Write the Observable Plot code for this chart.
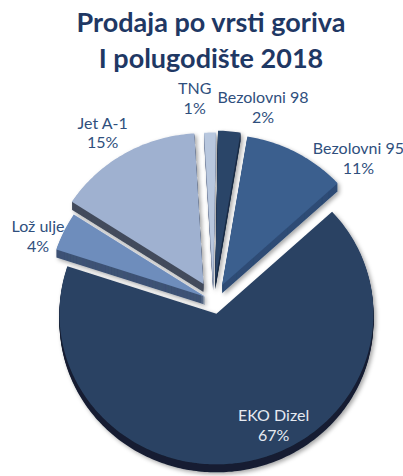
<!DOCTYPE html>
<html><head><meta charset="utf-8">
<script src="https://cdn.jsdelivr.net/npm/d3@7"></script>
<script src="https://cdn.jsdelivr.net/npm/@observablehq/plot@0.6"></script>
<style>
body{margin:0;background:#fff;width:403px;height:476px;overflow:hidden;font-family:Lato,sans-serif}
#title{height:74px;box-sizing:border-box;padding-top:4px;margin-left:19px;width:384px;text-align:center;font:700 27px/36px Lato,sans-serif;color:#1f3864}
#chart svg{display:block}
</style></head><body>
<div id="title">Prodaja po vrsti goriva<br>I polugodište 2018</div>
<div id="chart"></div>
<script>
// ---- data ----
const categories = ["Bezolovni 98", "Bezolovni 95", "EKO Dizel", "Lož ulje", "Jet A-1", "TNG"];
const shares = [2.3, 10.6, 66.9, 4.1, 14.9, 1.2];
const pctLabels = ["2%", "11%", "67%", "4%", "15%", "1%"];

// ---- style / layout ----
const topColors  = ["#2b4467", "#3a5e8e", "#2b4364", "#6e8dbc", "#9fb1d0", "#b8c7de"];
const sideColors = ["#1b2c45", "#2d4b74", "#161f33", "#3d5274", "#434c5d", "#7d8aa3"];
const labelColors = ["#2f4f7d", "#2f4f7d", "#e6eaf1", "#2f4f7d", "#2f4f7d", "#2f4f7d"];
const explode = [20, 18, 14, 9, 20, 18];
const labelAngle = [13.8, 44.3, 155.1, -69, -32.3, -5.1];
const labelRadius = [207.7, 207.5, 142.7, 188, 207.5, 212];
const drawOrder = ["Bezolovni 98", "TNG", "Jet A-1", "Bezolovni 95", "Lož ulje", "EKO Dizel"];
const pie = {cx: 213, cy: 300, r: 157, k: 0.96, depth: 8, start: 1};

// ---- geometry from values ----
const rad = d => d * Math.PI / 180;
const total = d3.sum(shares);
let acc = pie.start;
const slices = categories.map((name, i) => {
  const a0 = acc, a1 = acc + shares[i] / total * 360;
  acc = a1;
  const mid = (a0 + a1) / 2;
  const cx = pie.cx + explode[i] * Math.sin(rad(mid));
  const cy = pie.cy - explode[i] * pie.k * Math.cos(rad(mid));
  const pts = [[cx, cy]];
  const n = Math.max(2, Math.ceil(a1 - a0));
  for (let s = 0; s <= n; s++) {
    const a = a0 + (a1 - a0) * s / n;
    pts.push([cx + pie.r * Math.sin(rad(a)), cy - pie.r * pie.k * Math.cos(rad(a))]);
  }
  return {name, i, pts};
});

const rows = [];
for (const name of drawOrder) {
  const s = slices.find(d => d.name === name);
  for (let j = pie.depth; j >= 1; j--) {
    s.pts.forEach(([x, y]) => rows.push({x, y: y + j, id: name + "-w" + j, fill: sideColors[s.i]}));
  }
  s.pts.forEach(([x, y]) => rows.push({x, y, id: name + "-top", fill: topColors[s.i]}));
}

const labelRows = categories.map((name, i) => ({
  x: pie.cx + labelRadius[i] * Math.sin(rad(labelAngle[i])),
  y: pie.cy - labelRadius[i] * pie.k * Math.cos(rad(labelAngle[i])),
  text: name + "\n" + pctLabels[i],
  color: labelColors[i]
}));

const plot = Plot.plot({
  width: 403, height: 402, margin: 0,
  style: {fontFamily: "Lato, sans-serif", background: "#fff"},
  x: {domain: [0, 403], range: [0, 403], axis: null},
  y: {domain: [74, 476], range: [0, 402], axis: null},
  color: {type: "identity"},
  marks: [
    Plot.line(rows, {x: "x", y: "y", z: "id", fill: "fill", stroke: "none", curve: "linear-closed"}),
    Plot.text(labelRows, {x: "x", y: "y", text: "text", fill: "color", fontSize: 16, lineHeight: 1.22})
  ]
});

const sel = d3.select(plot);
sel.insert("defs", ":first-child").html(
  '<filter id="sh" x="-10%" y="-10%" width="130%" height="130%"><feDropShadow dx="2" dy="2" stdDeviation="2" flood-color="#000" flood-opacity="0.35"/></filter>'
);
sel.select('g[aria-label="line"]').attr("filter", "url(#sh)");
document.getElementById("chart").appendChild(plot);
</script>
</body></html>
